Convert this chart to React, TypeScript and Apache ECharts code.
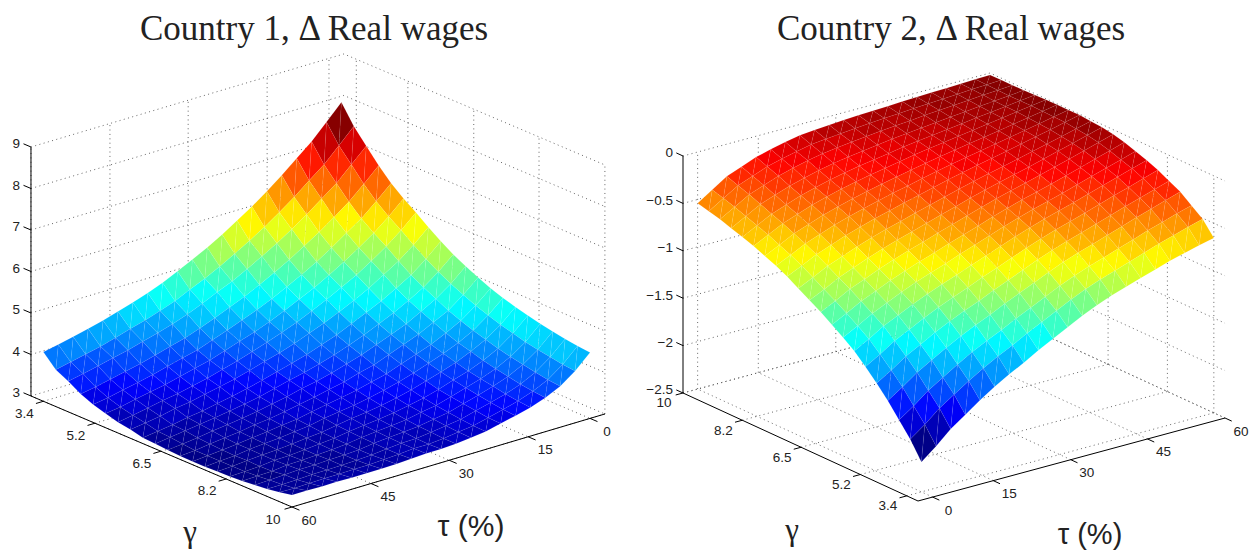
import React, { useEffect, useRef } from "react";
import * as echarts from "echarts";

// Surface heights are estimates from the picture: the four edges of each surface
// were read from its outline, the inner cells were estimated to fit the colour bands.
// Rows: tau index 0..20 (tau 0 -> 60). Columns: gamma index 0..20 (gamma 3.4 -> 10).
const country1Z: number[][] = [
  [8.07,7.62,7.27,6.93,6.63,6.39,6.18,5.95,5.74,5.55,5.39,5.25,5.12,5.01,4.92,4.84,4.77,4.71,4.66,4.62,4.59],
  [7.70,7.26,6.93,6.59,6.30,6.06,5.86,5.63,5.42,5.24,5.08,4.94,4.81,4.70,4.60,4.52,4.44,4.38,4.33,4.28,4.25],
  [7.34,6.91,6.59,6.27,5.99,5.77,5.57,5.35,5.14,4.97,4.82,4.67,4.55,4.44,4.35,4.26,4.19,4.13,4.07,4.02,3.99],
  [7.04,6.63,6.32,6.00,5.75,5.52,5.33,5.13,4.93,4.76,4.62,4.49,4.36,4.25,4.17,4.08,4.01,3.95,3.89,3.85,3.82],
  [6.74,6.34,6.05,5.75,5.50,5.29,5.10,4.91,4.73,4.57,4.43,4.31,4.19,4.10,4.01,3.93,3.87,3.82,3.76,3.72,3.69],
  [6.46,6.08,5.80,5.52,5.27,5.08,4.91,4.72,4.56,4.41,4.28,4.17,4.06,3.97,3.89,3.82,3.76,3.71,3.66,3.62,3.60],
  [6.20,5.83,5.57,5.30,5.07,4.88,4.72,4.55,4.39,4.25,4.14,4.03,3.93,3.84,3.78,3.70,3.65,3.61,3.57,3.53,3.52],
  [5.97,5.61,5.36,5.10,4.88,4.71,4.55,4.39,4.23,4.11,4.00,3.89,3.80,3.73,3.67,3.60,3.55,3.51,3.47,3.44,3.43],
  [5.74,5.40,5.16,4.91,4.70,4.54,4.39,4.25,4.10,3.98,3.89,3.80,3.71,3.64,3.58,3.53,3.49,3.45,3.42,3.40,3.39],
  [5.53,5.20,4.97,4.73,4.54,4.38,4.25,4.11,3.97,3.87,3.78,3.69,3.62,3.56,3.51,3.46,3.42,3.39,3.37,3.35,3.35],
  [5.35,5.02,4.82,4.58,4.40,4.24,4.12,3.99,3.87,3.77,3.69,3.62,3.55,3.49,3.45,3.41,3.38,3.36,3.33,3.32,3.33],
  [5.17,4.86,4.65,4.43,4.26,4.12,4.00,3.89,3.77,3.69,3.62,3.54,3.49,3.44,3.41,3.37,3.35,3.33,3.32,3.32,3.33],
  [5.00,4.69,4.50,4.29,4.13,4.00,3.88,3.78,3.67,3.60,3.53,3.47,3.42,3.39,3.35,3.33,3.31,3.30,3.29,3.29,3.31],
  [4.86,4.56,4.37,4.16,4.00,3.88,3.78,3.68,3.58,3.51,3.46,3.40,3.35,3.32,3.29,3.27,3.26,3.25,3.25,3.27,3.29],
  [4.74,4.44,4.26,4.06,3.91,3.79,3.68,3.60,3.50,3.44,3.39,3.34,3.31,3.28,3.26,3.24,3.23,3.23,3.23,3.25,3.28],
  [4.63,4.34,4.16,3.96,3.82,3.70,3.60,3.53,3.43,3.38,3.33,3.30,3.26,3.24,3.22,3.21,3.21,3.22,3.22,3.25,3.28],
  [4.52,4.23,4.06,3.86,3.72,3.61,3.52,3.45,3.36,3.32,3.28,3.24,3.22,3.21,3.19,3.18,3.19,3.20,3.21,3.24,3.28],
  [4.43,4.13,3.98,3.78,3.64,3.54,3.46,3.40,3.31,3.27,3.24,3.20,3.18,3.18,3.17,3.17,3.18,3.20,3.21,3.24,3.29],
  [4.34,4.05,3.89,3.70,3.57,3.47,3.39,3.32,3.24,3.22,3.18,3.16,3.14,3.13,3.14,3.13,3.14,3.18,3.19,3.23,3.28],
  [4.26,3.97,3.81,3.62,3.49,3.39,3.32,3.26,3.19,3.17,3.14,3.11,3.11,3.11,3.11,3.11,3.13,3.16,3.18,3.22,3.29],
  [4.19,3.89,3.74,3.56,3.43,3.34,3.26,3.21,3.14,3.12,3.10,3.08,3.08,3.08,3.09,3.10,3.12,3.15,3.18,3.23,3.29],
];
const country2Z: number[][] = [
  [-2.185,-2.00,-1.85,-1.70,-1.57,-1.45,-1.34,-1.25,-1.17,-1.09,-1.02,-.95,-.88,-.82,-.77,-.72,-.68,-.64,-.60,-.57,-.54],
  [-2.06,-1.885,-1.743,-1.598,-1.475,-1.362,-1.255,-1.17,-1.09,-1.016,-.948,-.876,-.807,-.747,-.696,-.644,-.60,-.556,-.513,-.476,-.44],
  [-1.92,-1.755,-1.622,-1.486,-1.37,-1.26,-1.16,-1.08,-1.007,-.932,-.866,-.797,-.729,-.67,-.617,-.565,-.519,-.471,-.424,-.383,-.34],
  [-1.81,-1.653,-1.526,-1.397,-1.287,-1.183,-1.088,-1.01,-.939,-.869,-.804,-.738,-.672,-.613,-.562,-.509,-.463,-.415,-.367,-.324,-.28],
  [-1.70,-1.55,-1.43,-1.308,-1.20,-1.104,-1.014,-.939,-.872,-.804,-.742,-.678,-.613,-.556,-.506,-.454,-.408,-.361,-.311,-.266,-.22],
  [-1.60,-1.458,-1.342,-1.226,-1.125,-1.032,-.946,-.875,-.811,-.745,-.686,-.625,-.564,-.509,-.46,-.41,-.365,-.319,-.269,-.226,-.18],
  [-1.51,-1.374,-1.264,-1.152,-1.056,-.967,-.885,-.817,-.754,-.692,-.635,-.577,-.518,-.465,-.418,-.37,-.326,-.28,-.232,-.19,-.145],
  [-1.43,-1.298,-1.192,-1.085,-.994,-.908,-.829,-.764,-.704,-.644,-.59,-.533,-.477,-.427,-.381,-.334,-.292,-.248,-.201,-.159,-.115],
  [-1.34,-1.213,-1.112,-1.01,-.923,-.841,-.767,-.704,-.648,-.591,-.541,-.487,-.435,-.387,-.345,-.302,-.263,-.223,-.18,-.141,-.10],
  [-1.26,-1.137,-1.04,-.941,-.859,-.781,-.71,-.65,-.597,-.543,-.495,-.446,-.397,-.353,-.314,-.274,-.239,-.201,-.162,-.127,-.09],
  [-1.18,-1.061,-.968,-.873,-.794,-.719,-.652,-.595,-.545,-.493,-.449,-.402,-.358,-.317,-.282,-.246,-.214,-.18,-.144,-.113,-.08],
  [-1.10,-.984,-.893,-.803,-.727,-.657,-.592,-.539,-.49,-.443,-.401,-.359,-.318,-.282,-.25,-.217,-.188,-.159,-.127,-.10,-.07],
  [-1.03,-.915,-.828,-.739,-.668,-.60,-.538,-.488,-.441,-.396,-.358,-.319,-.281,-.249,-.221,-.192,-.167,-.142,-.115,-.09,-.065],
  [-.97,-.856,-.77,-.683,-.615,-.549,-.489,-.44,-.395,-.353,-.317,-.282,-.248,-.219,-.195,-.169,-.149,-.126,-.103,-.082,-.06],
  [-.92,-.804,-.72,-.634,-.567,-.502,-.444,-.398,-.354,-.313,-.279,-.247,-.216,-.191,-.168,-.147,-.128,-.109,-.088,-.07,-.05],
  [-.87,-.752,-.667,-.582,-.517,-.454,-.398,-.354,-.311,-.272,-.24,-.211,-.183,-.162,-.143,-.125,-.109,-.094,-.076,-.061,-.045],
  [-.82,-.699,-.615,-.53,-.467,-.405,-.35,-.306,-.265,-.228,-.199,-.174,-.149,-.132,-.117,-.101,-.089,-.079,-.065,-.053,-.04],
  [-.77,-.645,-.561,-.476,-.414,-.353,-.301,-.259,-.22,-.185,-.156,-.135,-.114,-.101,-.089,-.078,-.071,-.063,-.054,-.044,-.035],
  [-.73,-.599,-.514,-.428,-.367,-.307,-.255,-.214,-.174,-.141,-.116,-.098,-.081,-.072,-.064,-.055,-.053,-.049,-.041,-.035,-.03],
  [-.69,-.553,-.465,-.379,-.318,-.258,-.207,-.167,-.127,-.094,-.072,-.059,-.045,-.041,-.037,-.033,-.033,-.035,-.031,-.028,-.025],
  [-.655,-.51,-.42,-.33,-.27,-.21,-.16,-.12,-.08,-.05,-.03,-.02,-.01,-.01,-.01,-.01,-.015,-.02,-.02,-.02,-.02],
];

const gammaLabels = ["3.4", "5.2", "6.5", "8.2", "10"];
const tauLabels = ["0", "15", "30", "45", "60"];
const gridTickIndex = [0, 4.15, 9.45, 14.7, 20];
const z1Ticks = [3, 4, 5, 6, 7, 8, 9];
const z2Ticks = [-2.5, -2, -1.5, -1, -0.5, 0];
const z2Labels = ["\u22122.5", "\u22122", "\u22121.5", "\u22121", "\u22120.5", "0"];

type P = [number, number];
type Project = (i: number, j: number, z: number) => P;

// Orthographic views of the two boxes, in picture pixels.
const view1: Project = (i, j, z) => [
  292 + (i - 20) * 12.43 - (j - 20) * 14.9,
  507 + (i - 20) * 5.286 + (j - 20) * 4.43 - (z - 3) * 41.5,
];
const view2: Project = (i, j, z) => [
  918 - (i + 1) * 11.19 + (j + 1) * 14.62,
  501 - (i + 1) * 5.143 - (j + 1) * 3.952 - (z + 2.5) * 94.8,
];

function jet(t: number): string {
  const k = Math.min(63, Math.max(0, Math.floor(t * 64)));
  const v = (k + 0.5) / 64;
  const ch = (c: number) => Math.round(255 * Math.max(0, Math.min(1, 1.5 - Math.abs(4 * v - c))));
  return `rgb(${ch(3)},${ch(2)},${ch(1)})`;
}

type Cell = { pts: P[]; pts2: P[]; fill: string };
function buildCells(z: number[][], view: Project, reverse: boolean): Cell[] {
  const flat = z.flat();
  const lo = Math.min(...flat);
  const hi = Math.max(...flat);
  const cells: Cell[] = [];
  for (let j = 0; j < 20; j++) {
    for (let i = 0; i < 20; i++) {
      const a = view(i, j, z[j][i]);
      const b = view(i + 1, j, z[j][i + 1]);
      const c = view(i + 1, j + 1, z[j + 1][i + 1]);
      const d = view(i, j + 1, z[j + 1][i]);
      cells.push({ pts: [a, b, c], pts2: [a, c, d], fill: jet((z[j][i] - lo) / (hi - lo)) });
    }
  }
  return reverse ? cells.reverse() : cells;
}

type Line = { pts: P[] };
function buildGrid(view: Project, zs: number[], wallI: number, wallJ: number): Line[] {
  const lines: Line[] = [];
  const zLo = zs[0];
  const zHi = zs[zs.length - 1];
  const otherI = wallI === -1 ? 20 : -1;
  const otherJ = wallJ === -1 ? 20 : -1;
  zs.forEach((z) => {
    lines.push({ pts: [view(wallI, otherJ, z), view(wallI, wallJ, z), view(otherI, wallJ, z)] });
  });
  gridTickIndex.forEach((t) => {
    lines.push({ pts: [view(wallI, t, zLo), view(wallI, t, zHi)] });
    lines.push({ pts: [view(t, wallJ, zLo), view(t, wallJ, zHi)] });
    lines.push({ pts: [view(-1, t, zLo), view(20, t, zLo)] });
    lines.push({ pts: [view(t, -1, zLo), view(t, 20, zLo)] });
  });
  return lines;
}

type Label = { text: string; at: P; size: number; align: string; family: string };
const sans = "Liberation Sans";
const tickSize = 13.5;

function buildAxes(
  view: Project,
  zs: number[],
  zLabels: string[],
  gammaAtJ: number,
  tauAtI: number,
  zI: number,
  zJ: number,
  gOff: P,
  tOff: P,
  zLabelX: number,
) {
  const lines: Line[] = [];
  const labels: Label[] = [];
  const zLo = zs[0];
  const zHi = zs[zs.length - 1];
  lines.push({ pts: [view(zI, zJ, zLo), view(zI, zJ, zHi)] });
  lines.push({ pts: [view(-1, gammaAtJ, zLo), view(20, gammaAtJ, zLo)] });
  lines.push({ pts: [view(tauAtI, -1, zLo), view(tauAtI, 20, zLo)] });
  const jOut = gammaAtJ === 20 ? 0.5 : -0.5;
  const iOut = tauAtI === 20 ? 0.6 : -0.6;
  gridTickIndex.forEach((t, k) => {
    const g = view(t, gammaAtJ, zLo);
    lines.push({ pts: [g, view(t, gammaAtJ + jOut, zLo)] });
    labels.push({ text: gammaLabels[k], at: [g[0] + gOff[0], g[1] + gOff[1]], size: tickSize, align: "center", family: sans });
    const h = view(tauAtI, t, zLo);
    lines.push({ pts: [h, view(tauAtI + iOut, t, zLo)] });
    labels.push({ text: tauLabels[k], at: [h[0] + tOff[0], h[1] + tOff[1]], size: tickSize, align: "center", family: sans });
  });
  const zOut = zI === -1 ? -0.6 : 0.6;
  zs.forEach((z, k) => {
    const p = view(zI, zJ, z);
    lines.push({ pts: [p, view(zI + zOut, zJ, z)] });
    labels.push({ text: zLabels[k], at: [zLabelX, p[1] - 3], size: tickSize, align: "right", family: sans });
  });
  return { lines, labels };
}

const cells = [...buildCells(country1Z, view1, false), ...buildCells(country2Z, view2, true)];
const gridLines = [...buildGrid(view1, z1Ticks, -1, -1), ...buildGrid(view2, z2Ticks, 20, 20)];
const axes1 = buildAxes(view1, z1Ticks, z1Ticks.map(String), 20, 20, -1, 20, [-19, 12], [17, 13], 20);
const axes2 = buildAxes(view2, z2Ticks, z2Labels, -1, -1, 20, -1, [-19, 10], [16, 13], 673);
const axisLines = [...axes1.lines, ...axes2.lines];
const labels: Label[] = [
  ...axes1.labels,
  ...axes2.labels,
  { text: "\u03b3", at: [190, 531], size: 31, align: "center", family: "Liberation Serif" },
  { text: "\u03c4 (%)", at: [471, 525], size: 30, align: "center", family: sans },
  { text: "\u03b3", at: [792, 529], size: 31, align: "center", family: "Liberation Serif" },
  { text: "\u03c4 (%)", at: [1090, 534], size: 29, align: "center", family: sans },
];

const index = (list: unknown[]) => list.map((_, k) => [k, 0]);

export default function App() {
  const ref = useRef<HTMLDivElement>(null);
  useEffect(() => {
    document.body.style.margin = "0";
    const chart = echarts.init(ref.current!, null, { renderer: "svg" });
    const toPx = (api: any, pts: P[]) => pts.map((p) => api.coord(p));
    const titleStyle = { fontFamily: "Liberation Serif", fontWeight: "normal", fontSize: 35, color: "#222" };
    chart.setOption({
      animation: false,
      backgroundColor: "#fff",
      title: [
        { text: "Country 1, \u0394 Real wages", left: 309, top: 6, textAlign: "center", textStyle: titleStyle },
        { text: "Country 2, \u0394 Real wages", left: 946, top: 6, textAlign: "center", textStyle: titleStyle },
      ],
      grid: { left: 0, top: 0, width: 1250, height: 550 },
      xAxis: { type: "value", min: 0, max: 1250, show: false },
      yAxis: { type: "value", min: 0, max: 550, inverse: true, show: false },
      series: [
        {
          type: "custom",
          coordinateSystem: "cartesian2d",
          silent: true,
          clip: false,
          data: index(gridLines),
          renderItem: (params: any, api: any) => ({
            type: "polyline",
            shape: { points: toPx(api, gridLines[params.dataIndex].pts) },
            style: { stroke: "#555", lineWidth: 0.9, lineDash: [1, 3.4], fill: null },
          }),
        },
        {
          type: "custom",
          coordinateSystem: "cartesian2d",
          silent: true,
          clip: false,
          data: index(cells),
          renderItem: (params: any, api: any) => {
            const c = cells[params.dataIndex];
            const style = { fill: c.fill, stroke: "rgba(255,255,255,0.12)", lineWidth: 0.45 };
            return {
              type: "group",
              children: [
                { type: "polygon", shape: { points: toPx(api, c.pts) }, style },
                { type: "polygon", shape: { points: toPx(api, c.pts2) }, style },
              ],
            };
          },
        },
        {
          type: "custom",
          coordinateSystem: "cartesian2d",
          silent: true,
          clip: false,
          data: index(axisLines),
          renderItem: (params: any, api: any) => ({
            type: "polyline",
            shape: { points: toPx(api, axisLines[params.dataIndex].pts) },
            style: { stroke: "#000", lineWidth: 1, fill: null },
          }),
        },
        {
          type: "custom",
          coordinateSystem: "cartesian2d",
          silent: true,
          clip: false,
          data: index(labels),
          renderItem: (params: any, api: any) => {
            const l = labels[params.dataIndex];
            const [x, y] = api.coord(l.at);
            return {
              type: "text",
              style: {
                text: l.text,
                x,
                y,
                fill: "#222",
                fontSize: l.size,
                fontFamily: l.family,
                textAlign: l.align,
                textVerticalAlign: "middle",
              },
            };
          },
        },
      ],
    });
    return () => chart.dispose();
  }, []);
  return <div ref={ref} style={{ width: 1250, height: 550 }} />;
}
